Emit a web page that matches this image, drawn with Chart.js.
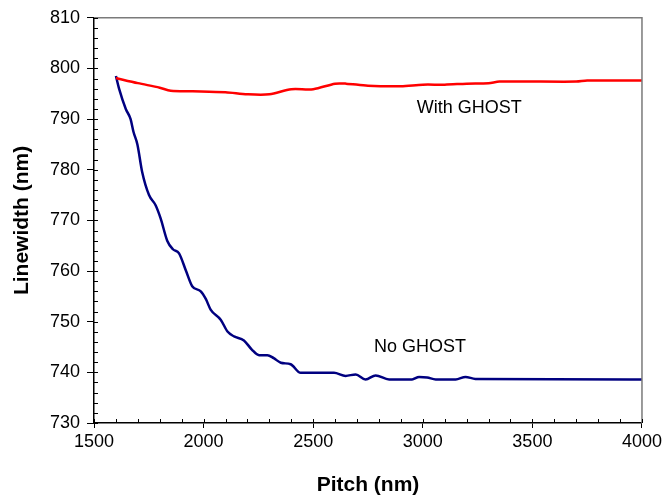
<!DOCTYPE html>
<html>
<head>
<meta charset="utf-8">
<script src="https://cdn.jsdelivr.net/npm/chart.js@4/dist/chart.umd.min.js"></script>
<style>
  html, body { margin: 0; padding: 0; background: #fff; }
  canvas { display: block; }
</style>
</head>
<body>
<canvas id="chart" width="665" height="500"></canvas>
<script>
// data

const ghostPitch = [1600, 1700, 1800, 1850, 1950, 2100, 2200, 2300, 2400, 2500, 2600, 2650, 2750, 2900, 3000, 3100, 3200, 3300, 3350, 3700, 3750, 4000];
const ghostWidth = [798.1, 797.1, 796.2, 795.6, 795.5, 795.3, 794.9, 794.9, 795.9, 795.9, 797.0, 797.0, 796.6, 796.5, 796.8, 796.8, 797.0, 797.1, 797.4, 797.4, 797.6, 797.6];

const noGhostPitch = [1600, 1615, 1645, 1667, 1680, 1698, 1720, 1751, 1781, 1804, 1834, 1860, 1888, 1920, 1948, 1987, 2010, 2032, 2078, 2110, 2139, 2184, 2220, 2253, 2291, 2320, 2352, 2397, 2443, 2595, 2648, 2694, 2739, 2785, 2846, 2951, 2983, 3020, 3059, 3150, 3195, 3240, 4000];
const noGhostWidth = [798.5, 795.9, 792.0, 790.0, 787.5, 785.0, 779.5, 775.0, 773.0, 770.4, 766.0, 764.3, 763.5, 760.0, 757.0, 756.0, 754.5, 752.4, 750.4, 748.0, 747.1, 746.3, 744.5, 743.4, 743.4, 742.8, 741.9, 741.6, 739.9, 739.9, 739.3, 739.6, 738.6, 739.4, 738.6, 738.6, 739.1, 739.0, 738.6, 738.6, 739.1, 738.7, 738.6];

const xTicks = [1500, 2000, 2500, 3000, 3500, 4000];
const yTicks = [730, 740, 750, 760, 770, 780, 790, 800, 810];

// text labels placed in data units
const notes = [
    { text: 'With GHOST', x: 2972, y: 792.1 },
    { text: 'No GHOST', x: 2777, y: 745.0 }
];

function toPoints(xs, ys) {
    return xs.map((x, i) => ({ x: x, y: ys[i] }));
}

// frame, inner ticks and the two text labels
const extras = {
    id: 'extras',
    afterDraw(chart) {
        const ctx = chart.ctx;
        const a = chart.chartArea;
        const xs = chart.scales.x;
        const ys = chart.scales.y;
        ctx.save();

        ctx.strokeStyle = '#7a7a7a';
        ctx.lineWidth = 1.5;
        ctx.beginPath();
        ctx.moveTo(a.left, a.top);
        ctx.lineTo(a.right, a.top);
        ctx.lineTo(a.right, a.bottom);
        ctx.stroke();

        ctx.strokeStyle = '#000';
        ctx.lineWidth = 1;
        ctx.beginPath();
        for (let v = xs.min; v <= xs.max; v += 100) {
            const px = Math.round(xs.getPixelForValue(v)) + 0.5;
            ctx.moveTo(px, a.bottom);
            ctx.lineTo(px, a.bottom - 4);
        }
        for (let v = ys.min; v <= ys.max; v += 2) {
            const py = Math.round(ys.getPixelForValue(v)) + 0.5;
            ctx.moveTo(a.left, py);
            ctx.lineTo(a.left + 4, py);
        }
        ctx.stroke();

        ctx.fillStyle = '#000';
        ctx.font = '18px "Liberation Sans", Arial, sans-serif';
        ctx.textAlign = 'left';
        ctx.textBaseline = 'middle';
        notes.forEach(n => {
            ctx.fillText(n.text, xs.getPixelForValue(n.x), ys.getPixelForValue(n.y));
        });
        ctx.restore();
    }
};

const tickFont = { family: '"Liberation Sans", Arial, sans-serif', size: 18 };
const titleFont = { family: '"Liberation Sans", Arial, sans-serif', size: 21, weight: 'bold' };

new Chart(document.getElementById('chart').getContext('2d'), {
    type: 'line',
    data: {
        datasets: [
            {
                label: 'With GHOST',
                data: toPoints(ghostPitch, ghostWidth),
                borderColor: '#ff0000',
                borderWidth: 2.5,
                pointRadius: 0,
                fill: false,
                tension: 0.3
            },
            {
                label: 'No GHOST',
                data: toPoints(noGhostPitch, noGhostWidth),
                borderColor: '#000080',
                borderWidth: 2.5,
                pointRadius: 0,
                fill: false,
                cubicInterpolationMode: 'monotone'
            }
        ]
    },
    options: {
        responsive: false,
        animation: false,
        layout: { padding: { top: 12, right: 23, left: 0, bottom: 0 } },
        plugins: {
            legend: { display: false },
            tooltip: { enabled: false }
        },
        scales: {
            x: {
                type: 'linear',
                min: 1500,
                max: 4000,
                afterBuildTicks: s => { s.ticks = xTicks.map(v => ({ value: v })); },
                afterFit: s => { s.height = 77; },
                border: { color: '#000', width: 1.5 },
                grid: { drawOnChartArea: false, tickLength: 5, color: '#000' },
                ticks: { color: '#000', font: tickFont, padding: 3, maxRotation: 0, callback: v => String(v) },
                title: { display: true, text: 'Pitch (nm)', color: '#000', font: titleFont, padding: { top: 0, bottom: 2 } }
            },
            y: {
                min: 730,
                max: 810,
                afterBuildTicks: s => { s.ticks = yTicks.map(v => ({ value: v })); },
                afterFit: s => { s.width = 94; },
                border: { color: '#000', width: 1.5 },
                grid: { drawOnChartArea: false, tickLength: 7, color: '#000' },
                ticks: { color: '#000', font: tickFont, padding: 7 },
                title: { display: true, text: 'Linewidth (nm)', color: '#000', font: titleFont, padding: { top: 10, bottom: 0 } }
            }
        }
    },
    plugins: [extras]
});
</script>
</body>
</html>
